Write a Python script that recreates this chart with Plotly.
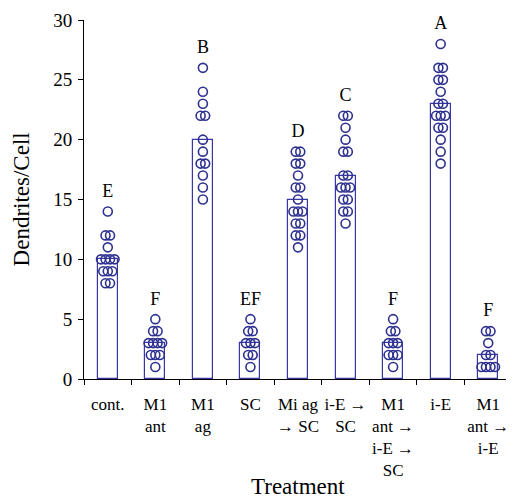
import plotly.graph_objects as go

categories = ["cont.", "M1<br>ant", "M1<br>ag", "SC", "Mi ag<br>→ SC", "i-E →<br>SC",
              "M1<br>ant →<br>i-E →<br>SC", "i-E", "M1<br>ant →<br>i-E"]
means = [10, 3, 20, 3, 15, 17, 3, 23, 2]
letters = ["E", "F", "B", "EF", "D", "C", "F", "A", "F"]

pts_cont = [14, 12, 12, 11, 10, 10, 10, 10, 9, 9, 9, 8, 8]
pts_m1ant = [5, 4, 4, 3, 3, 3, 3, 2, 2, 2, 1]
pts_m1ag = [26, 24, 23, 22, 22, 20, 19, 18, 18, 17, 16, 15]
pts_sc = [5, 4, 4, 3, 3, 3, 2, 2, 1]
pts_miag_sc = [19, 19, 18, 18, 17, 16, 16, 15, 14, 14, 14, 13, 13, 12, 12, 11]
pts_ie_sc = [22, 22, 21, 20, 19, 19, 17, 17, 16, 16, 16, 15, 15, 14, 14, 13]
pts_m1ant_ie_sc = [5, 4, 4, 3, 3, 3, 2, 2, 2, 1]
pts_ie = [28, 26, 26, 25, 25, 24, 23, 23, 22, 22, 22, 21, 21, 20, 19, 18]
pts_m1ant_ie = [4, 4, 3, 2, 2, 1, 1, 1, 1]

groups = [pts_cont, pts_m1ant, pts_m1ag, pts_sc, pts_miag_sc, pts_ie_sc,
          pts_m1ant_ie_sc, pts_ie, pts_m1ant_ie]

BAR = "#3636a6"
MK = "#2e3190"
FONT = "Liberation Serif"

idx = list(range(len(categories)))
fig = go.Figure()
fig.add_trace(go.Bar(x=idx, y=means, width=0.42, marker=dict(color="white", line=dict(color=BAR, width=1.2)),
                     showlegend=False))

px_, py_ = [], []
for i, g in enumerate(groups):
    counts = {}
    for v in g:
        counts[v] = counts.get(v, 0) + 1
    seen = {}
    for v in g:
        n = counts[v]
        k = seen.get(v, 0)
        seen[v] = k + 1
        off = (k - (n - 1) / 2) * 0.095
        px_.append(i + off)
        py_.append(v)
fig.add_trace(go.Scatter(x=px_, y=py_, mode="markers", showlegend=False,
                         marker=dict(symbol="circle-open", size=9, color=MK, line=dict(width=1.6, color=MK))))

fig.add_trace(go.Scatter(x=idx, y=[max(g) + 1.6 for g in groups], mode="text", text=letters,
                         textfont=dict(family=FONT, size=18, color="black"), showlegend=False,
                         cliponaxis=False))

# invisible trace to activate label axis
fig.add_trace(go.Scatter(x=idx, y=[0] * len(idx), xaxis="x2", mode="markers",
                         marker=dict(opacity=0), showlegend=False, hoverinfo="skip"))

fig.update_layout(
    width=514, height=500,
    margin=dict(l=76, r=10, t=12, b=129),
    paper_bgcolor="white", plot_bgcolor="white",
    font=dict(family=FONT, size=17, color="black"),
    bargap=0,
    xaxis=dict(range=[-0.5, 8.5], tickvals=[i - 0.5 for i in range(10)], ticktext=[""] * 10,
               ticks="outside", ticklen=5, tickcolor="black", showline=True, linecolor="black",
               linewidth=1, showgrid=False, zeroline=False, automargin=False),
    xaxis2=dict(range=[-0.5, 8.5], overlaying="x", side="bottom", tickvals=idx, ticktext=categories,
                ticks="", showline=False, showgrid=False, zeroline=False, tickfont=dict(size=17),
                anchor="y", automargin=False, ticklabelstandoff=13),
    yaxis=dict(range=[0, 30], dtick=5, ticks="outside", ticklen=5, tickcolor="black",
               showline=True, linecolor="black", linewidth=1, showgrid=False, zeroline=False,
               tickfont=dict(size=19), automargin=False, ticklabelstandoff=2),
    annotations=[
        dict(text="Treatment", xref="paper", yref="paper", x=0.5, y=-0.3, yanchor="middle",
             showarrow=False, font=dict(size=23)),
        dict(text="Dendrites/Cell", xref="paper", yref="paper", x=-0.145, y=0.5, textangle=-90,
             xanchor="center", yanchor="middle", showarrow=False, font=dict(size=23)),
    ],
)

fig.write_html("out.html")
